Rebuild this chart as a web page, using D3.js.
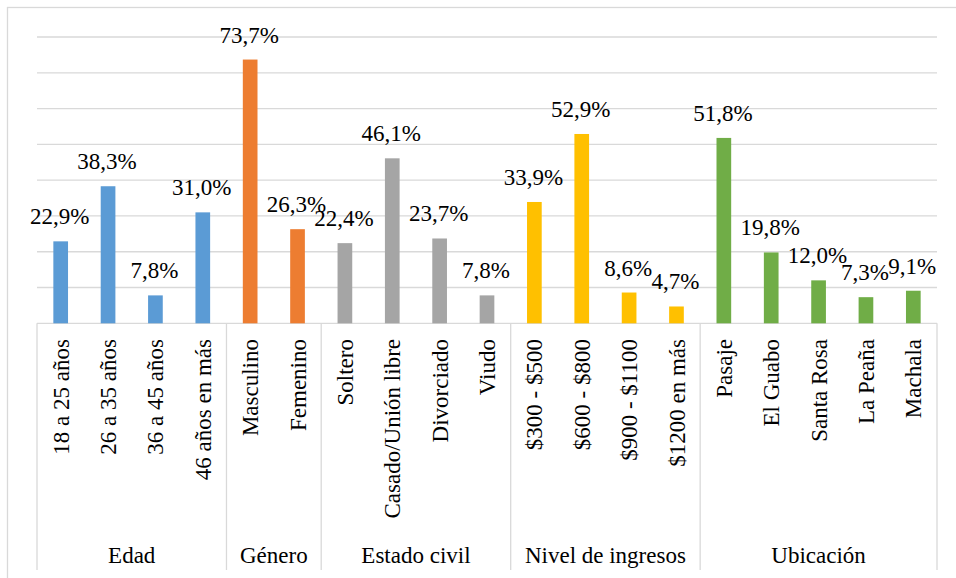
<!DOCTYPE html>
<html>
<head>
<meta charset="utf-8">
<script src="https://cdn.jsdelivr.net/npm/d3@7"></script>
</head>
<body style="margin:0;background:#fff">
<svg id="chart" width="956" height="578" style="display:block"></svg>
<script>
// Survey profile: share of respondents per category, grouped by variable
const groups = ["Edad", "Género", "Estado civil", "Nivel de ingresos", "Ubicación"];
const groupColors = ["#5B9BD5", "#ED7D31", "#A5A5A5", "#FFC000", "#70AD47"];

const categories = [
  "18 a 25 años", "26 a 35 años", "36 a 45 años", "46 años en más",
  "Masculino", "Femenino",
  "Soltero", "Casado/Unión libre", "Divorciado", "Viudo",
  "$300 - $500", "$600 - $800", "$900 - $1100", "$1200 en más",
  "Pasaje", "El Guabo", "Santa Rosa", "La Peaña", "Machala"
];
const categoryGroup = [
  0, 0, 0, 0,
  1, 1,
  2, 2, 2, 2,
  3, 3, 3, 3,
  4, 4, 4, 4, 4
];
const values = [
  22.9, 38.3, 7.8, 31.0,
  73.7, 26.3,
  22.4, 46.1, 23.7, 7.8,
  33.9, 52.9, 8.6, 4.7,
  51.8, 19.8, 12.0, 7.3, 9.1
];
const yTicks = [0, 10, 20, 30, 40, 50, 60, 70, 80];

const svg = d3.select("#chart");
const plot = { left: 37, right: 937, top: 37, bottom: 323.3 };
const axisBottom = 570;
const fmt = v => d3.format(".1f")(v).replace(".", ",") + "%";

// outer chart frame
svg.append("rect")
  .attr("x", 7.5).attr("y", 7.5)
  .attr("width", 970).attr("height", 590)
  .attr("fill", "#fff").attr("stroke", "#D9D9D9").attr("stroke-width", 1.3);

const x = d3.scaleBand()
  .domain(categories)
  .range([plot.left, plot.right])
  .paddingInner(0).paddingOuter(0);

const y = d3.scaleLinear().domain([0, 80]).range([plot.bottom, plot.top]);

// horizontal gridlines
svg.append("g")
  .selectAll("line")
  .data(yTicks)
  .join("line")
  .attr("x1", plot.left).attr("x2", plot.right)
  .attr("y1", d => y(d)).attr("y2", d => y(d))
  .attr("stroke", "#D9D9D9").attr("stroke-width", 1.3);

// bars
const barW = x.bandwidth() * 0.31;
svg.append("g")
  .selectAll("rect")
  .data(categories)
  .join("rect")
  .attr("x", d => x(d) + (x.bandwidth() - barW) / 2)
  .attr("width", barW)
  .attr("y", (d, i) => y(values[i]))
  .attr("height", (d, i) => y(0) - y(values[i]))
  .attr("fill", (d, i) => groupColors[categoryGroup[i]]);

// value labels
svg.selectAll("text.value")
  .data(categories)
  .join("text")
  .attr("class", "value")
  .attr("x", d => x(d) + x.bandwidth() / 2 - 1)
  .attr("y", (d, i) => y(values[i]) - 17)
  .attr("text-anchor", "middle")
  .attr("font-size", 23)
  .style("font-family", "Tinos")
  .text((d, i) => fmt(values[i]));

// category labels (rotated)
svg.selectAll("text.cat")
  .data(categories)
  .join("text")
  .attr("class", "cat")
  .attr("transform", d => `translate(${x(d) + x.bandwidth() / 2},339) rotate(-90)`)
  .attr("text-anchor", "end")
  .attr("dy", "0.35em")
  .attr("font-size", 23)
  .style("font-family", "Times New Roman")
  .text(d => d);

// group extents along the axis
const groupSpans = groups.map((g, gi) => {
  const members = categories.filter((c, i) => categoryGroup[i] === gi);
  return {
    name: g,
    x0: x(members[0]),
    x1: x(members[members.length - 1]) + x.bandwidth()
  };
});

// axis separators between groups
const sepX = [plot.left].concat(groupSpans.map(s => s.x1));
svg.append("g")
  .selectAll("line")
  .data(sepX)
  .join("line")
  .attr("x1", d => d).attr("x2", d => d)
  .attr("y1", plot.bottom).attr("y2", axisBottom)
  .attr("stroke", "#D9D9D9").attr("stroke-width", 1.3);

// group labels
svg.selectAll("text.group")
  .data(groupSpans)
  .join("text")
  .attr("class", "group")
  .attr("x", d => (d.x0 + d.x1) / 2)
  .attr("y", 563)
  .attr("text-anchor", "middle")
  .attr("font-size", 23)
  .style("font-family", "serif")
  .text(d => d.name);
</script>
</body>
</html>
